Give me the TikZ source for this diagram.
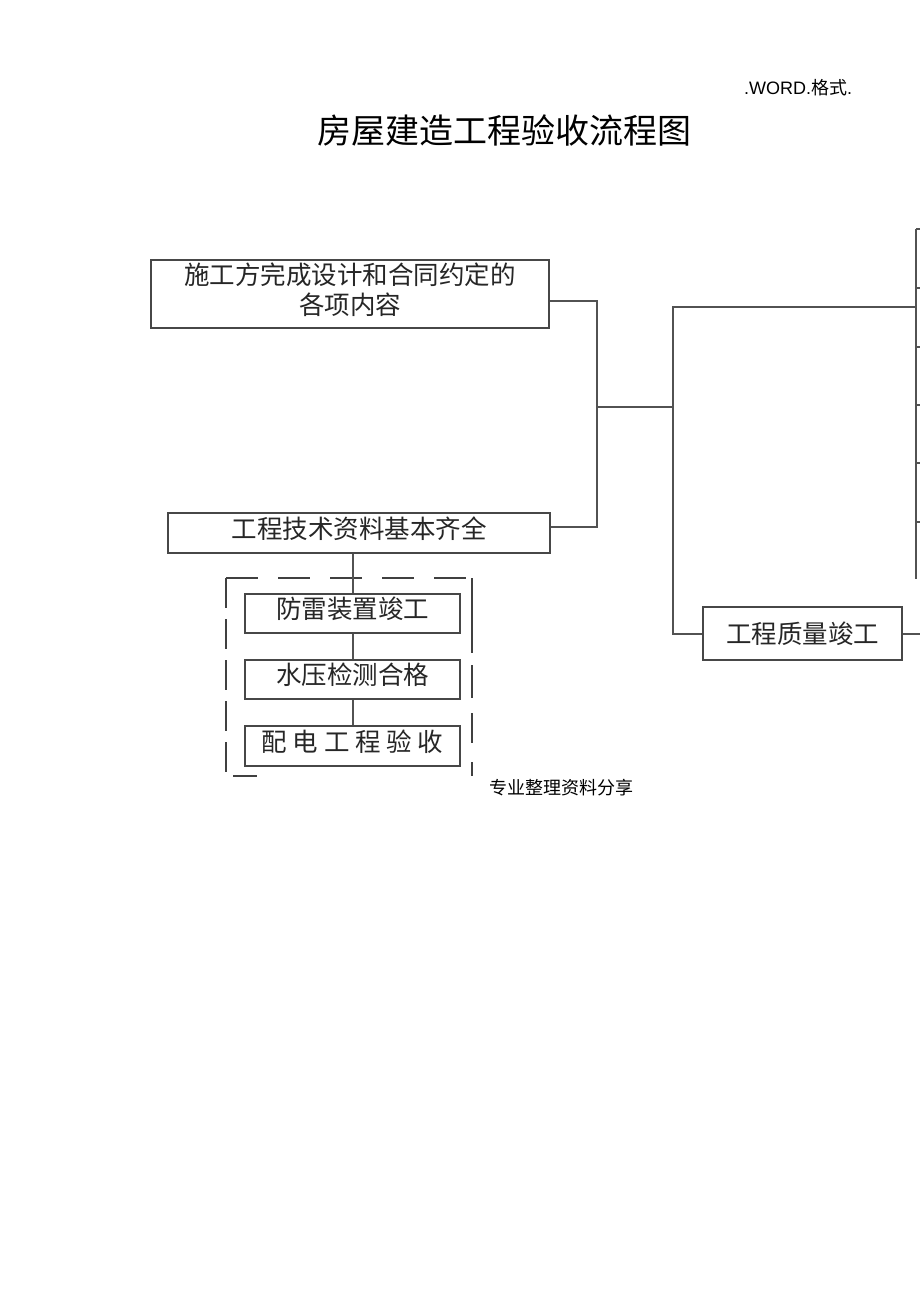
\documentclass[tikz,border=0pt]{standalone}
\usepackage{fontspec}
\newfontfamily\cjk{Noto Sans CJK SC}
\newfontfamily\latinsans{Liberation Sans}
\usetikzlibrary{calc,positioning}

\tikzset{
  box/.style={draw=black!72,line width=2.1pt,inner sep=0pt,text=black!85,align=center,
    font=\cjk\fontsize{25.5}{30}\selectfont},
  raised/.style={text height=17pt,text depth=7pt},
  link/.style={draw=black!68,line width=2pt},
  group/.style={draw=black!75,line width=2pt},
}

\begin{document}
\begin{tikzpicture}[x=1pt,y=-1pt]
  \useasboundingbox[fill=white] (0,0) rectangle (920,1301);
  \node[font=\latinsans\fontsize{18}{21}\selectfont] (fmt) at (798,88) {.WORD.{\cjk 格式}.};
  \node[font=\cjk\fontsize{34}{40}\selectfont] (title) at (504,130) {房屋建造工程验收流程图};
  \node[box,text height=47pt,text depth=7pt,minimum width=398pt,minimum height=68pt] (design) at (350,294) {施工方完成设计和合同约定的\\各项内容};
  \node[box,raised,minimum width=382pt,minimum height=40pt] (tech) at (359,533) {工程技术资料基本齐全};
  \draw[group,dash pattern=on 32pt off 20pt] (226,578) -- (472,578);
  \draw[group,dash pattern=on 30pt off 11pt] (226,578) -- (226,776) -- (257,776);
  \draw[group,dash pattern=on 75pt off 12pt on 33pt off 15pt on 30pt off 19pt] (472,578) -- (472,776);
  \node[box,raised,minimum width=215pt,minimum height=39pt] (lightning) at (352.5,613.5) {防雷装置竣工};
  \node[box,raised,minimum width=215pt,minimum height=39pt] (water) at (352.5,679.5) {水压检测合格};
  \node[box,raised,minimum width=215pt,minimum height=40pt] (power) at (352.5,746) {配 电 工 程 验 收};
  \node[box,minimum width=199pt,minimum height=53pt] (quality) at (802.5,633.5) {工程质量竣工};
  \node[font=\cjk\fontsize{18}{21}\selectfont] (share) at (561,788) {专业整理资料分享};
  \coordinate (j1) at (597,407);
  \coordinate (j2) at (673,407);
  \coordinate (rtop) at (916,229);
  \coordinate (rbot) at (916,579);
  \coordinate (qout) at (920,633.5);
  \draw[link] ([yshift=-7pt]design.east) -| (j1);
  \draw[link] ([yshift=6pt]tech.east) -| (j1);
  \draw[link] (j1) -- (j2);
  \draw[link] (j2) |- (rtop |- 0,307);
  \draw[link] (j2) |- (quality.west);
  \draw[link] (rtop) -- (rbot);
  \foreach \ty in {229,288,347,405,463,522}
    \draw[link] (916,\ty) -- (920,\ty);
  \draw[link] (quality.east) -- (qout);
  \draw[link] (tech.south -| lightning.north) -- (lightning.north);
  \draw[link] (lightning.south) -- (water.north);
  \draw[link] (water.south) -- (power.north);
\end{tikzpicture}
\end{document}
